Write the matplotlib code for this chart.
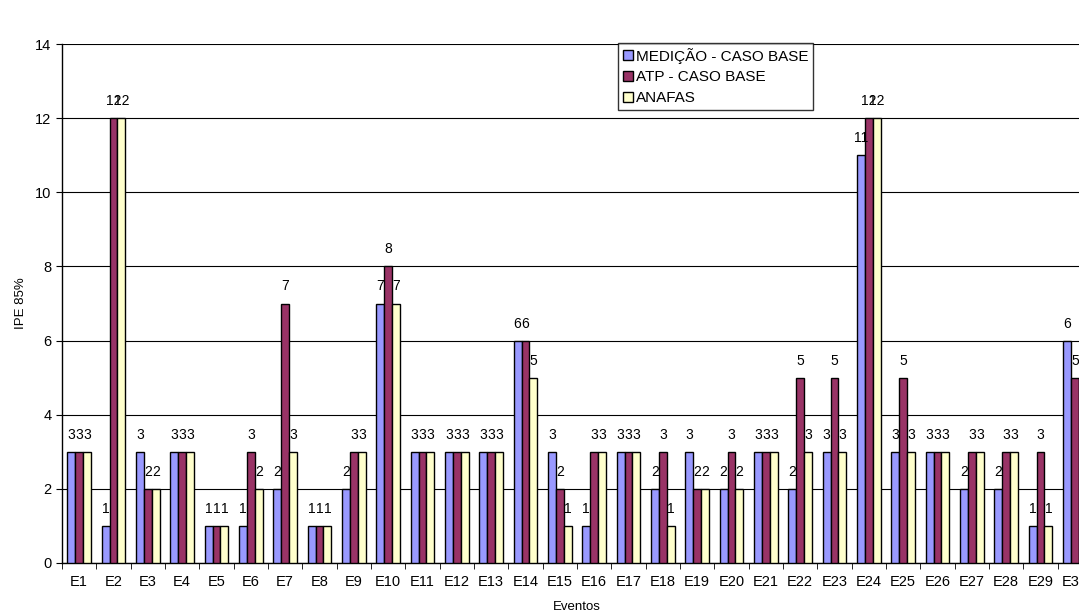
import numpy as np
import matplotlib
matplotlib.use('Agg')
import matplotlib.pyplot as plt

plt.rcParams['font.family'] = ['Liberation Sans', 'DejaVu Sans']

# dados
eventos = ['E%d' % i for i in range(1, 31)]
medicao = [3, 1, 3, 3, 1, 1, 2, 1, 2, 7, 3, 3, 3, 6, 3, 1, 3, 2, 3, 2, 3, 2, 3, 11, 3, 3, 2, 2, 1, 6]
atp = [3, 12, 2, 3, 1, 3, 7, 1, 3, 8, 3, 3, 3, 6, 2, 3, 3, 3, 2, 3, 3, 5, 5, 12, 5, 3, 3, 3, 3, 5]
anafas = [3, 12, 2, 3, 1, 2, 3, 1, 3, 7, 3, 3, 3, 5, 1, 3, 3, 1, 2, 2, 3, 3, 3, 12, 3, 3, 3, 3, 1, 5]

series = [('MEDIÇÃO - CASO BASE', medicao, '#9999FF'),
          ('ATP - CASO BASE', atp, '#993366'),
          ('ANAFAS', anafas, '#FFFFCC')]

fig = plt.figure(figsize=(10.79, 6.16), dpi=100)
# eixo passa um pouco da borda direita, como no original
ax = fig.add_axes([62 / 1079, 53 / 616, 1030 / 1079, 519 / 616])

x = np.arange(len(eventos))
w = 0.233
for i, (nome, vals, cor) in enumerate(series):
    pos = x + (i - 1) * w
    bars = ax.bar(pos, vals, w, color=cor, edgecolor='black', linewidth=1.0,
                  label=nome, zorder=3)
    for b, v in zip(bars, vals):
        ax.text(b.get_x() + b.get_width() / 2, v + 0.27, str(v),
                ha='center', va='bottom', fontsize=10, zorder=4)

ax.set_xlim(-0.5, len(eventos) - 0.5)
ax.set_ylim(0, 14)
ax.set_yticks(range(0, 15, 2))
ax.yaxis.grid(True, color='black', linewidth=0.8, zorder=0)
ax.set_xticks(x)
ax.set_xticklabels(eventos, fontsize=10.5)
ax.set_xticks(np.arange(-0.5, len(eventos), 1), minor=True)
ax.tick_params(axis='x', which='major', length=0, pad=9)
ax.tick_params(axis='x', which='minor', length=4, direction='out')
ax.tick_params(axis='y', labelsize=10.5, length=4, direction='out')

for s in ['top', 'right']:
    ax.spines[s].set_visible(False)
ax.spines['left'].set_linewidth(1.0)
ax.spines['bottom'].set_linewidth(1.0)

ax.set_xlabel('Eventos', fontsize=9.5, labelpad=8)
ax.set_ylabel('IPE 85%', fontsize=9.5, labelpad=6)

leg = ax.legend(loc='upper left', bbox_to_anchor=((618 - 62) / 1030, (563 - 43) / 519),
                fontsize=11, frameon=True, fancybox=False, edgecolor='black',
                handlelength=0.65, handleheight=0.65, handletextpad=0.2,
                borderpad=0.3, labelspacing=0.45, borderaxespad=0)
leg.get_frame().set_linewidth(1.0)

plt.savefig('out.png', dpi=100)
